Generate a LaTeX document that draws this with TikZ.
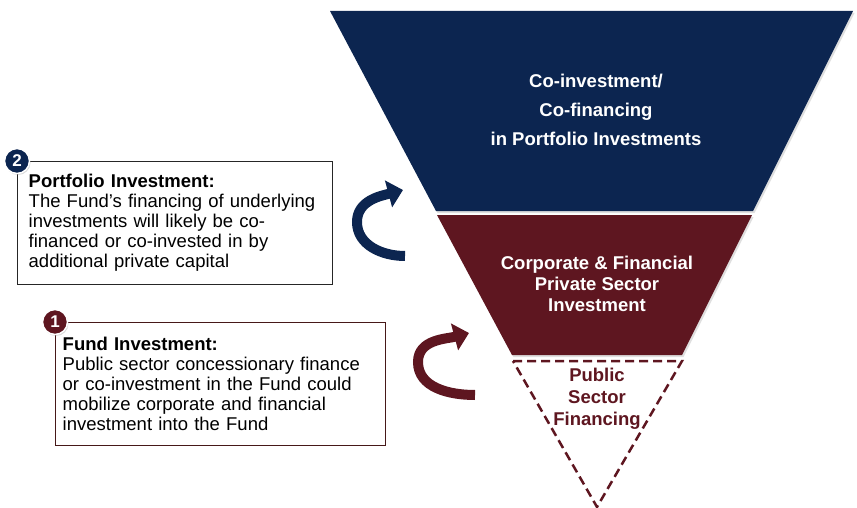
\documentclass[tikz,border=0pt]{standalone}
\usepackage{fontspec}
\setmainfont{Liberation Sans}
\usetikzlibrary{arrows.meta}
\usetikzlibrary{shadows}
\definecolor{fundnavy}{RGB}{12,37,80}
\definecolor{fundred}{RGB}{94,22,32}
\definecolor{boxbrown}{RGB}{70,24,24}

\begin{document}
\begin{tikzpicture}[x=1pt,y=-1pt,
    layertext/.style={text=white,align=center},
    infobox/.style={draw,line width=1.4pt,fill=white,anchor=north west,align=left,
      minimum height=123pt,font=\fontsize{18.5}{20}\selectfont},
    badge/.style={circle,draw=white,line width=1.5pt,inner sep=0pt,minimum size=25pt,
      text=white,font=\fontsize{17}{17}\selectfont\bfseries,
      drop shadow={opacity=.3,shadow xshift=1pt,shadow yshift=-1.5pt}},
    curvearrow/.style={line width=10pt,-{Triangle[width=27pt,length=15pt]}},
    layershadow/.style={drop shadow={opacity=.25,shadow xshift=1.5pt,shadow yshift=-2pt}}]
    \useasboundingbox (0,0) rectangle (857,508);
    % funnel
    \fill[fundnavy,layershadow] (330,11) -- (853,11) -- (753,211) -- (436,211) -- cycle;
    \fill[fundred,layershadow] (437,215) -- (752,215) -- (682,355) -- (512,355) -- cycle;
    \draw[fundred,line width=2.5pt,dash pattern=on 9pt off 5pt,fill=white]
      (513,361) -- (682,361) -- (597,507) -- cycle;
    \node[layertext,font=\fontsize{18.5}{29}\selectfont\bfseries] (colayer) at (596,110)
      {Co-investment/\\Co-financing\\in Portfolio Investments};
    \node[layertext,font=\fontsize{18.5}{21}\selectfont\bfseries] (privlayer) at (597,284)
      {Corporate \& Financial\\Private Sector\\Investment};
    \node[layertext,text=fundred,font=\fontsize{18.5}{22}\selectfont\bfseries] (publayer) at (597,399)
      {Public\\Sector\\Financing};
    % boxes
    \node[infobox,draw=black!85,text width=293pt,inner xsep=11pt] (portbox) at (17,161)
      {\textbf{Portfolio Investment:}\\The Fund’s financing of underlying\\investments will likely be co-\\financed or co-invested in by\\additional private capital};
    \node[infobox,draw=boxbrown,text width=316pt,inner xsep=7pt] (fundbox) at (55,322)
      {\textbf{Fund Investment:}\\Public sector concessionary finance\\or co-investment in the Fund could\\mobilize corporate and financial\\investment into the Fund};
    \node[badge,fill=fundnavy] (portnum) at (portbox.north west) {2};
    \node[badge,fill=fundred] (fundnum) at (fundbox.north west) {1};
    % curved arrows
    \draw[curvearrow,fundnavy] (405,256) to[out=180,in=270] (357,222)
      to[out=90,in=195] (403,190);
    \draw[curvearrow,fundred] (475,395) to[out=180,in=270] (418,362)
      to[out=90,in=195] (469,333);
\end{tikzpicture}
\end{document}
